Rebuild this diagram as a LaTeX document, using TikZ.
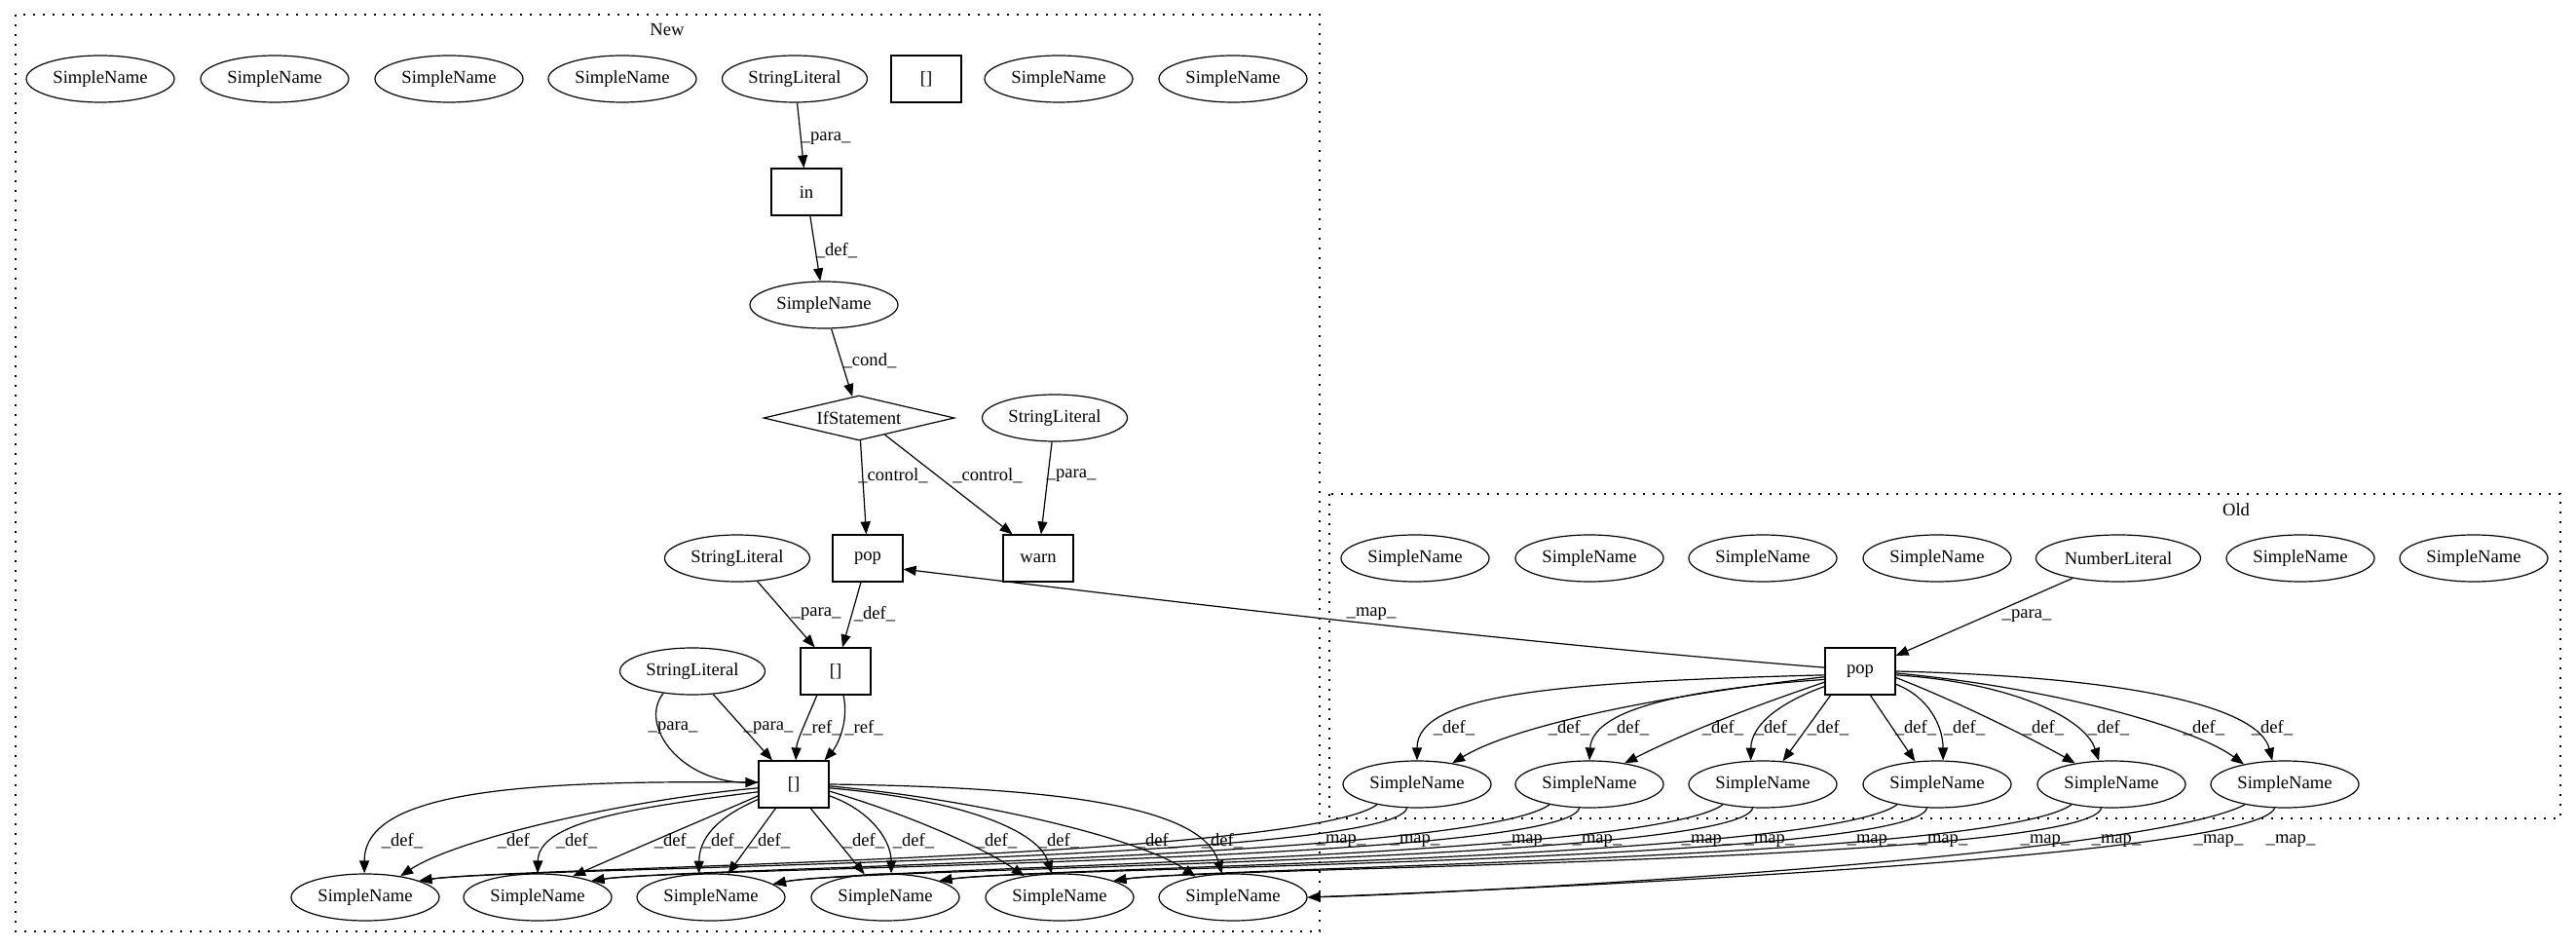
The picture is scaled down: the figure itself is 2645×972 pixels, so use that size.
\documentclass[tikz,border=0pt]{standalone}
\usepackage{fontspec}
\setmainfont{Liberation Serif}
\usetikzlibrary{arrows.meta,shapes.geometric,calc}
\begin{document}
\begin{tikzpicture}[x=0.5pt,y=-0.5pt,
  every node/.style={font=\fontsize{9.3pt}{11pt}\selectfont, line width=0.6pt},
  sn/.style={draw, ellipse, minimum width=76pt, minimum height=24pt, inner sep=0pt},
  slit/.style={sn, minimum width=74.5pt},
  nlit/.style={sn, minimum width=84.5pt},
  bx/.style={draw, rectangle, minimum width=36pt, minimum height=24pt, inner sep=0pt},
  dm/.style={draw, diamond, aspect=4.3, minimum width=98pt, minimum height=23pt, inner sep=0pt},
  ed/.style={line width=0.6pt, -{Triangle[length=6.5pt,width=5pt]}},
  lb/.style={inner sep=0pt},
  cl/.style={line width=0.6pt, dash pattern=on 1pt off 4pt}]
\useasboundingbox (0,0) rectangle (2645,972);

% clusters
\draw[cl] (16,15) rectangle (1355,956);
\node[lb] (lnew) at (685,31) {New};
\draw[cl] (1365,507) rectangle (2629,840);
\node[lb] (lold) at (2296,523) {Old};

% ---------- New ----------
\node[sn] (t1) at (103,81) {SimpleName};
\node[sn] (t2) at (282,81) {SimpleName};
\node[sn] (t3) at (461,81) {SimpleName};
\node[sn] (t4) at (639,81) {SimpleName};
\node[slit] (nsl1) at (816,81) {StringLiteral};
\node[bx] (nbx0) at (951,81) {[]};
\node[sn] (t7) at (1087,81) {SimpleName};
\node[sn] (t8) at (1266,81) {SimpleName};

\node[bx] (nin) at (828,197) {in};
\node[sn] (nsn) at (846,313) {SimpleName};
\node[dm] (nif) at (882,429) {IfStatement};
\node[slit] (nsl2) at (1083,429) {StringLiteral};
\node[bx] (npop) at (891,573) {pop};
\node[bx] (nwarn) at (1066,573) {warn};
\node[slit] (nsl3) at (757,573) {StringLiteral};
\node[bx] (nbr1) at (858,689) {[]};
\node[slit] (nsl4) at (711,689) {StringLiteral};
\node[bx] (nbr2) at (815,805) {[]};

\node[sn] (b1) at (375,921) {SimpleName};
\node[sn] (b2) at (552,921) {SimpleName};
\node[sn] (b3) at (730,921) {SimpleName};
\node[sn] (b4) at (909,921) {SimpleName};
\node[sn] (b5) at (1088,921) {SimpleName};
\node[sn] (b6) at (1266,921) {SimpleName};

% ---------- Old ----------
\node[sn] (o1) at (1453,573) {SimpleName};
\node[sn] (o2) at (1632,573) {SimpleName};
\node[sn] (o3) at (1810,573) {SimpleName};
\node[sn] (o4) at (1989,573) {SimpleName};
\node[nlit] (nl) at (2175,573) {NumberLiteral};
\node[sn] (o6) at (2362,573) {SimpleName};
\node[sn] (o7) at (2540,573) {SimpleName};

\node[bx] (opop) at (1910,689) {pop};

\node[sn] (m1) at (1455,805) {SimpleName};
\node[sn] (m2) at (1632,805) {SimpleName};
\node[sn] (m3) at (1810,805) {SimpleName};
\node[sn] (m4) at (1989,805) {SimpleName};
\node[sn] (m5) at (2168,805) {SimpleName};
\node[sn] (m6) at (2346,805) {SimpleName};

% ---------- edges New ----------
\draw[ed] (nsl1) -- (nin);
\draw[ed] (nin) -- (nsn);
\draw[ed] (nsn) -- (nif);
\draw[ed] (nif) -- (npop);
\draw[ed] (nif.327) -- (nwarn.137);
\draw[ed] (nsl2) -- (nwarn);
\draw[ed] (nsl3) -- (nbr1);
\draw[ed] (npop) -- (nbr1);
\draw[ed] (nsl4.217) .. controls (655,745) and (700,803) .. (nbr2.177);
\draw[ed] (nsl4) -- (nbr2);
\draw[ed] (nbr1.232) .. controls (828,740) and (818,760) .. (nbr2.85);
\draw[ed] (nbr1.288) .. controls (872,740) and (860,765) .. (nbr2.38);

\draw[ed] (nbr2.177) .. controls (520,800) and (374,815) .. (b1.92);
\draw[ed] (nbr2.186) .. controls (650,820) and (470,860) .. (b1.31);
\draw[ed] (nbr2.192) .. controls (640,830) and (553,845) .. (b2.90);
\draw[ed] (nbr2.198) .. controls (716,844) and (652,871) .. (b2.31);
\draw[ed] (nbr2.203) .. controls (745,835) and (718,855) .. (b3.117);
\draw[ed] (nbr2.233) -- (b3.54);
\draw[ed] (nbr2.305) -- (b4.132);
\draw[ed] (nbr2.342) .. controls (890,830) and (915,860) .. (b4.76);
\draw[ed] (nbr2.349) .. controls (930,835) and (1010,870) .. (b5.149);
\draw[ed] (nbr2.354) .. controls (980,820) and (1065,850) .. (b5.108);
\draw[ed] (nbr2.357) .. controls (1000,820) and (1170,860) .. (b6.151);
\draw[ed] (nbr2.0) .. controls (1100,808) and (1235,830) .. (b6.115);

% ---------- edges Old ----------
\draw[ed] (nl) -- (opop);
\draw[ed] (opop.174) .. controls (1560,660) and (1240,622) .. (npop.343);

\draw[ed] (opop.186) .. controls (1600,700) and (1455,712) .. (m1.90);
\draw[ed] (opop.189) .. controls (1720,712) and (1560,742) .. (m1.31);
\draw[ed] (opop.193) .. controls (1720,708) and (1635,730) .. (m2.90);
\draw[ed] (opop.197) .. controls (1800,725) and (1730,752) .. (m2.31);
\draw[ed] (opop.203) .. controls (1825,722) and (1798,745) .. (m3.117);
\draw[ed] (opop.219) -- (m3.49);
\draw[ed] (opop.293) -- (m4.134);
\draw[ed] (opop.340) .. controls (1980,715) and (1995,745) .. (m4.76);
\draw[ed] (opop.350) .. controls (2010,720) and (2090,760) .. (m5.150);
\draw[ed] (opop.354) .. controls (2060,700) and (2140,735) .. (m5.118);
\draw[ed] (opop.357) .. controls (2100,705) and (2250,745) .. (m6.154);
\draw[ed] (opop.0) .. controls (2200,695) and (2320,728) .. (m6.118);

% ---------- map edges ----------
\draw[ed] (m1.207) .. controls (1335,882) and (525,890) .. (b1.17);
\draw[ed] (m1.247) .. controls (1430,885) and (525,890) .. (b1.17);
\draw[ed] (m2.207) .. controls (1512,882) and (702,890) .. (b2.17);
\draw[ed] (m2.247) .. controls (1607,885) and (702,890) .. (b2.17);
\draw[ed] (m3.207) .. controls (1690,882) and (880,890) .. (b3.12);
\draw[ed] (m3.247) .. controls (1785,885) and (880,890) .. (b3.12);
\draw[ed] (m4.207) .. controls (1869,882) and (1059,890) .. (b4.17);
\draw[ed] (m4.247) .. controls (1964,885) and (1059,890) .. (b4.17);
\draw[ed] (m5.207) .. controls (2048,882) and (1238,890) .. (b5.17);
\draw[ed] (m5.247) .. controls (2143,885) and (1238,890) .. (b5.17);
\draw[ed] (m6.207) .. controls (2200,880) and (1500,917) .. (b6.east);
\draw[ed] (m6.247) .. controls (2315,882) and (1500,915) .. (b6.east);

% ---------- labels ----------
\node[lb] (l1) at (848,142) {\_para\_};
\node[lb] (l2) at (859,257) {\_def\_};
\node[lb] (l3) at (893,370) {\_cond\_};
\node[lb] (l4) at (917,488) {\_control\_};
\node[lb] (l5) at (1014,488) {\_control\_};
\node[lb] (l6) at (1100,488) {\_para\_};
\node[lb] (l7) at (838,630) {\_para\_};
\node[lb] (l8) at (898,630) {\_def\_};
\node[lb] (l9) at (691,747) {\_para\_};
\node[lb] (l10) at (789,747) {\_para\_};
\node[lb] (l11) at (844,747) {\_ref\_};
\node[lb] (l12) at (887,747) {\_ref\_};
\foreach \x [count=\i] in {413,532,592,693,742,790,887,938,1023,1087,1188,1255}
  \node[lb] (ld\i) at (\x,863) {\_def\_};

\node[lb] (lm0) at (1408,630) {\_map\_};
\node[lb] (lp0) at (2081,632) {\_para\_};
\foreach \x [count=\i] in {1493,1611,1672,1769,1823,1877,1967,2017,2098,2165,2263,2333}
  \node[lb] (lod\i) at (\x,747) {\_def\_};
\foreach \x [count=\i] in {1377,1453,1568,1640,1752,1817,1922,1995,2100,2173,2278,2352}
  \node[lb] (lmp\i) at (\x,863) {\_map\_};
\end{tikzpicture}
\end{document}
